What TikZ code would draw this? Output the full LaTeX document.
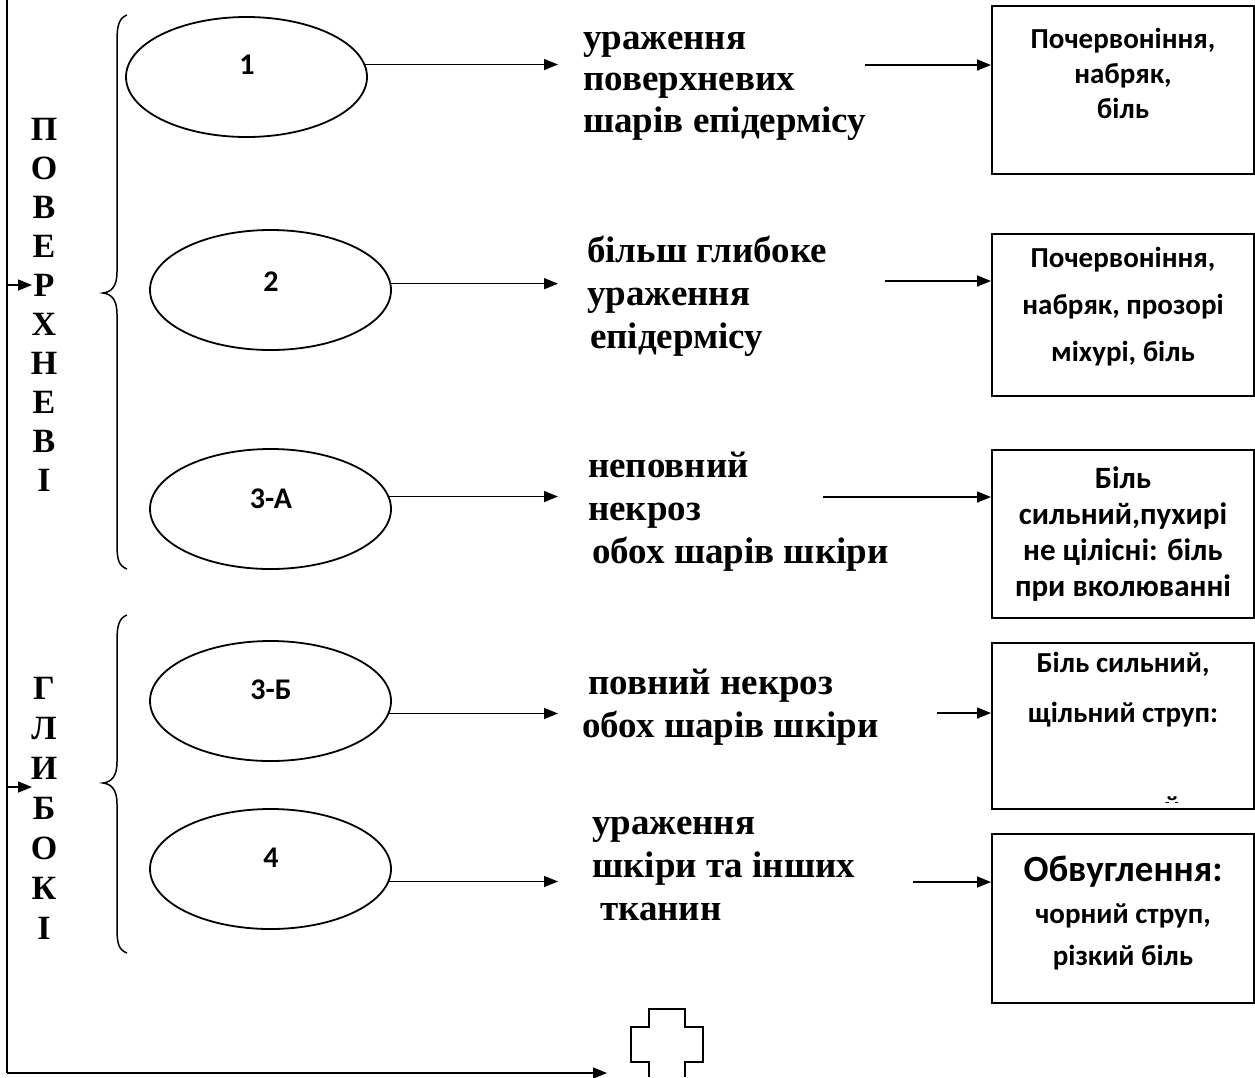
\documentclass[tikz,border=0pt]{standalone}
\usepackage{fontspec}
\setmainfont{Liberation Serif}
\newfontfamily\boxfont{Carlito}
\usetikzlibrary{shapes.geometric,arrows.meta}

\tikzset{
  thin line/.style={line width=1.5pt},
  arr/.style={line width=1.5pt, -{Triangle[length=14pt,width=11pt]}},
  oval/.style={ellipse, draw, line width=1.8pt, minimum width=241pt, minimum height=120pt, inner sep=0pt},
  num/.style={font=\boxfont\bfseries\fontsize{30}{34}\selectfont, inner sep=0pt},
  phrase/.style={font=\bfseries\fontsize{37}{43}\selectfont, align=left, anchor=base west, inner sep=0pt},
  sign/.style={draw, line width=2pt, minimum width=262pt, inner sep=0pt, anchor=north west},
  signtxt/.style={font=\boxfont\bfseries\fontsize{31}{36}\selectfont, align=center, anchor=base, inner sep=0pt},
  letters/.style={align=center, anchor=base, inner sep=0pt},
  brace/.style={line width=1.5pt},
}

\begin{document}
\begin{tikzpicture}[x=1pt,y=-1pt]
\useasboundingbox (0,0) rectangle (1255,1077);

% outer frame line on the left and along the bottom
\coordinate (ftop) at (7,0);
\coordinate (fcorner) at (7,1073);
\coordinate (crossin) at (607,1073);
\draw[thin line] (ftop) -- (fcorner);
\draw[arr] (fcorner) -- (crossin);

% the cross at the bottom
\draw[line width=2pt] (649,1077) -- (649,1062) -- (631,1062) -- (631,1027) -- (649,1027)
  -- (649,1009) -- (685,1009) -- (685,1027) -- (703,1027) -- (703,1062) -- (685,1062) -- (685,1077);

% group headings, written vertically (anchored at the last line)
\node[letters, font=\bfseries\fontsize{34}{39}\selectfont] (surf) at (44,491) {П\\О\\В\\Е\\Р\\Х\\Н\\Е\\В\\І};
\node[letters, font=\bfseries\fontsize{34}{40}\selectfont] (deep) at (44,939) {Г\\Л\\И\\Б\\О\\К\\І};
\coordinate (in1) at (32,285);
\coordinate (in2) at (32,787);
\draw[arr] (ftop |- in1) -- (in1);
\draw[arr] (ftop |- in2) -- (in2);

% braces
\draw[brace] (127,15) .. controls (119,18) and (117,26) .. (117,40) -- (117,272)
  .. controls (117,287) and (111,292) .. (103,293) .. controls (111,294) and (117,299) .. (117,314)
  -- (117,545) .. controls (117,560) and (119,566) .. (127,569);
\draw[brace] (127,615) .. controls (119,618) and (117,626) .. (117,640) -- (117,762)
  .. controls (117,777) and (111,782) .. (103,783) .. controls (111,784) and (117,789) .. (117,804)
  -- (117,929) .. controls (117,944) and (119,950) .. (127,953);

% degree ovals
\node[oval] (e1) at (246.5,77) {};
\node[oval] (e2) at (270.5,290) {};
\node[oval] (e3a) at (270.5,509) {};
\node[oval] (e3b) at (270.5,701) {};
\node[oval] (e4) at (270.5,869) {};
\node[num] at (247,65) {1};
\node[num] at (271,282) {2};
\node[num] at (271,499) {3-А};
\node[num] at (271,690) {3-Б};
\node[num] at (271,858) {4};

% descriptions (anchored at the baseline of their last line)
\node[phrase, font=\bfseries\fontsize{37}{41.5}\selectfont] (t1) at (583,132) {ураження\\поверхневих\\шарів епідермісу};
\node[phrase] (t2) at (587,348) {більш глибоке\\ураження\\\hspace*{3pt}епідермісу};
\node[phrase] (t3a) at (588,563) {неповний\\некроз\\\hspace*{4pt}обох шарів шкіри};
\node[phrase] (t3b) at (582,737) {\hspace*{6pt}повний некроз\\обох шарів шкіри};
\node[phrase] (t4) at (592,920) {ураження\\шкіри та інших\\\hspace*{8pt}тканин};

% arrow end points in front of the descriptions
\coordinate (a1) at (558,65);
\coordinate (a2) at (558,282);
\coordinate (a3a) at (558,497);
\coordinate (a3b) at (558,713);
\coordinate (a4) at (558,882);
\draw[arr] (e1.6) -- (e1.6 -| a1);
\draw[arr] (e2.3) -- (e2.3 -| a2);
\draw[arr] (e3a.6) -- (e3a.6 -| a3a);
\draw[arr] (e3b.-6) -- (e3b.-6 -| a3b);
\draw[arr] (e4.-6) -- (e4.-6 -| a4);

% symptom boxes
\node[sign, minimum height=168pt] (b1) at (991,5) {};
\node[sign, minimum height=162pt] (b2) at (991,233) {};
\node[sign, minimum height=168pt] (b3a) at (991,449) {};
\node[sign, minimum height=166pt] (b3b) at (991,642) {};
\node[sign, minimum height=169pt] (b4) at (991,833) {};

\node[signtxt, font=\boxfont\bfseries\fontsize{29}{35}\selectfont] at (1123,118) {Почервоніння,\\набряк,\\біль};
\node[signtxt, font=\boxfont\bfseries\fontsize{29}{47}\selectfont] at (1123,361) {Почервоніння,\\набряк, прозорі\\міхурі, біль};
\node[signtxt, font=\boxfont\bfseries\fontsize{31}{36}\selectfont] at (1123,596) {Біль\\сильний,пухирі\\не цілісні: біль\\при вколюванні};
\node[signtxt, font=\boxfont\bfseries\fontsize{29}{50}\selectfont] at (1123,722) {Біль сильний,\\щільний струп:};
\begin{scope}
  \clip (992,643) rectangle (1252,802);
  \node[signtxt, font=\boxfont\bfseries\fontsize{29}{34}\selectfont] at (1172,816) {й};
\end{scope}
\node[signtxt, font=\boxfont\bfseries\fontsize{29}{42}\selectfont] at (1123,965) {{\fontsize{37}{42}\selectfont Обвуглення:}\\чорний струп,\\різкий біль};

% arrows from descriptions to boxes
\coordinate (s1) at (865,65);
\coordinate (s2) at (885,281);
\coordinate (s3a) at (823,497);
\coordinate (s3b) at (937,713);
\coordinate (s4) at (913,882);
\draw[arr] (s1) -- (s1 -| b1.west);
\draw[arr] (s2) -- (s2 -| b2.west);
\draw[arr] (s3a) -- (s3a -| b3a.west);
\draw[arr] (s3b) -- (s3b -| b3b.west);
\draw[arr] (s4) -- (s4 -| b4.west);
\end{tikzpicture}
\end{document}
